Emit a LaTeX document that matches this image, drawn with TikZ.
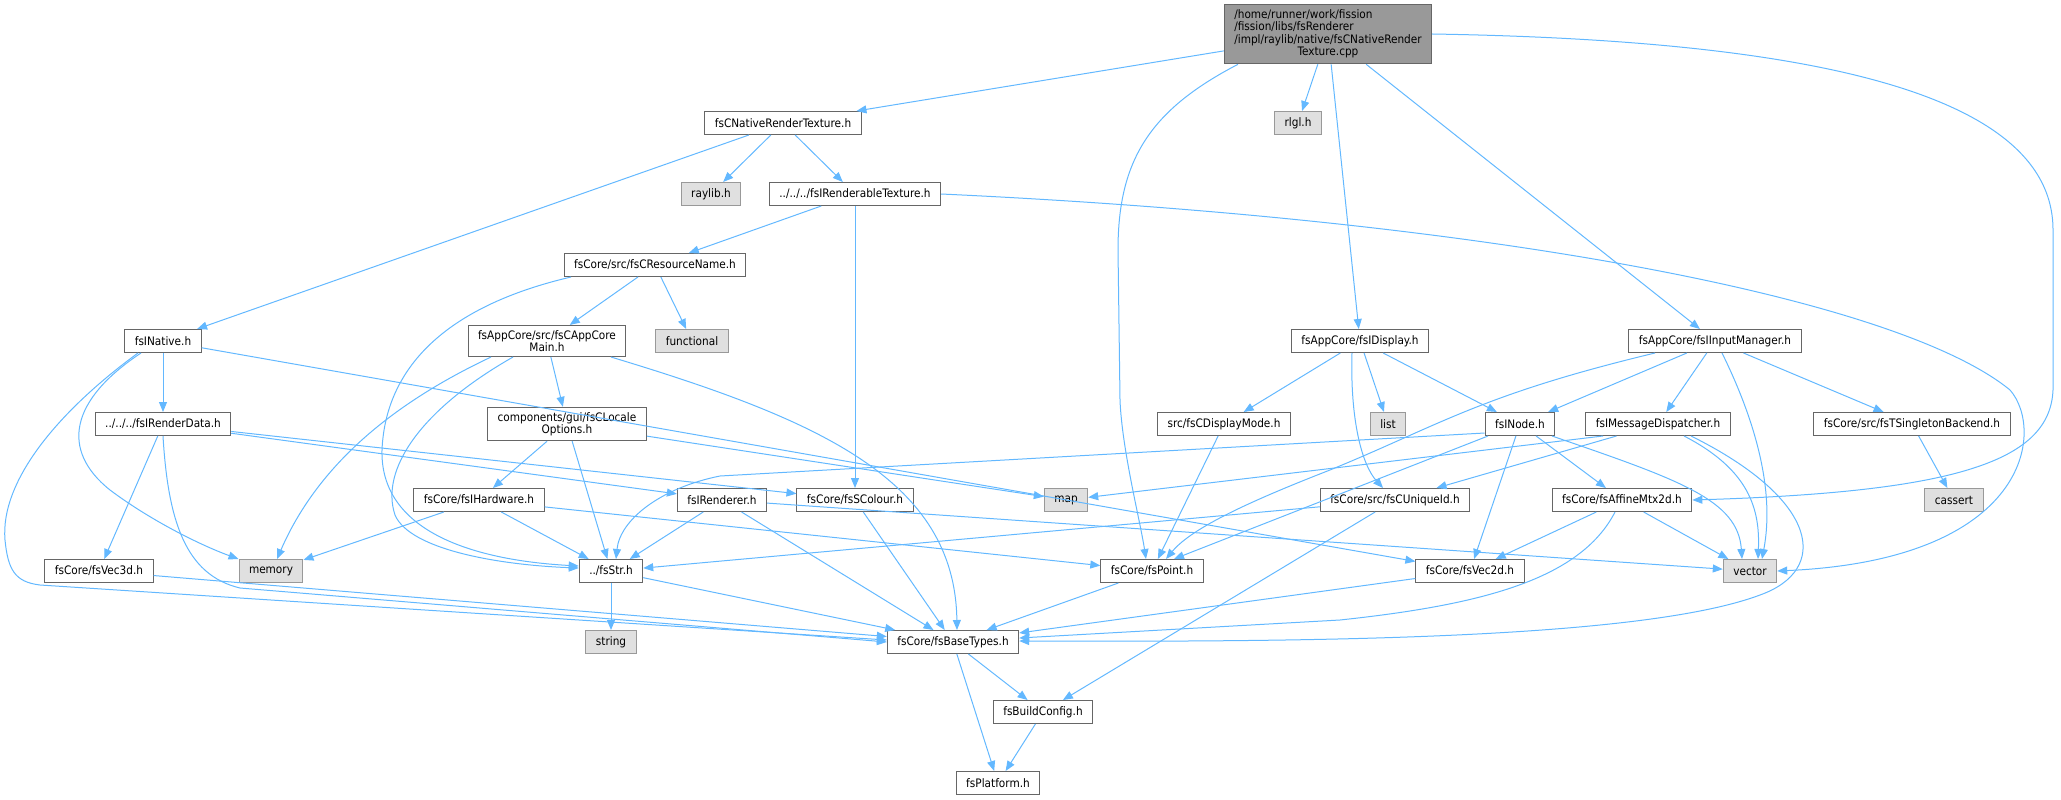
\documentclass[tikz,border=0pt]{standalone}
\usepackage{fontspec}
\setmainfont{DejaVu Sans Condensed}
\usepackage{tikz}
\usetikzlibrary{arrows.meta}
\definecolor{incblue}{HTML}{63B8FF}
\definecolor{boxline}{HTML}{666666}
\definecolor{sysline}{HTML}{999999}
\definecolor{sysfill}{HTML}{E0E0E0}
\definecolor{rootfill}{HTML}{999999}

\begin{document}
\begin{tikzpicture}[x=1pt,y=-1pt,
  hdr/.style={draw=boxline, fill=white, line width=1pt, minimum height=23pt,
    inner xsep=10pt, inner ysep=5pt, font=\fontsize{11.7}{12}\selectfont},
  sys/.style={hdr, draw=sysline, fill=sysfill},
  cur/.style={hdr, draw=boxline, fill=rootfill},
  inc/.style={incblue, line width=1pt, -{Triangle[length=10pt,width=8pt]}}]
\useasboundingbox (0,0) rectangle (2061,800);

\node [cur, minimum height=58pt] (root) at (1328,34) {\begin{tabular}{@{}l@{}}/home/runner/work/fission\\/fission/libs/fsRenderer\\/impl/raylib/native/fsCNativeRender\\\multicolumn{1}{@{}c@{}}{Texture.cpp}\end{tabular}};
\node [hdr] (ntex) at (783,123) {fsCNativeRenderTexture.h};
\node [sys] (rlgl) at (1298,123) {rlgl.h};
\node [sys] (raylib) at (711,194) {raylib.h};
\node [hdr] (rtex) at (855,194) {../../../fsIRenderableTexture.h};
\node [hdr] (resname) at (655,265) {fsCore/src/fsCResourceName.h};
\node [hdr] (native) at (163,341) {fsINative.h};
\node [hdr, align=center] (appmain) at (547,341) {fsAppCore/src/fsCAppCore\\Main.h};
\node [sys] (functional) at (692,341) {functional};
\node [hdr] (display) at (1360,341) {fsAppCore/fsIDisplay.h};
\node [hdr] (input) at (1715,341) {fsAppCore/fsIInputManager.h};
\node [hdr] (rdata) at (163,424) {../../../fsIRenderData.h};
\node [hdr, align=center] (locale) at (567,424) {components/gui/fsCLocale\\Options.h};
\node [hdr] (dmode) at (1224,424) {src/fsCDisplayMode.h};
\node [sys] (list) at (1388,424) {list};
\node [hdr] (inode) at (1520,424) {fsINode.h};
\node [hdr] (msgdisp) at (1658,424) {fsIMessageDispatcher.h};
\node [hdr] (singleton) at (1912,424) {fsCore/src/fsTSingletonBackend.h};
\node [hdr] (hardware) at (479,500) {fsCore/fsIHardware.h};
\node [hdr] (renderer) at (722,500) {fsIRenderer.h};
\node [hdr] (colour) at (855,500) {fsCore/fsSColour.h};
\node [sys] (map) at (1066,500) {map};
\node [hdr] (uniqueid) at (1395,500) {fsCore/src/fsCUniqueId.h};
\node [hdr] (affine) at (1622,500) {fsCore/fsAffineMtx2d.h};
\node [sys] (cassert) at (1954,500) {cassert};
\node [hdr] (vec3d) at (99,571) {fsCore/fsVec3d.h};
\node [sys] (memory) at (271,571) {memory};
\node [hdr] (str) at (611,571) {../fsStr.h};
\node [hdr] (point) at (1152,571) {fsCore/fsPoint.h};
\node [hdr] (vec2d) at (1470,571) {fsCore/fsVec2d.h};
\node [sys] (vector) at (1750,571) {vector};
\node [sys] (string) at (611,642) {string};
\node [hdr] (basetypes) at (953,642) {fsCore/fsBaseTypes.h};
\node [hdr] (buildconfig) at (1043,712) {fsBuildConfig.h};
\node [hdr] (platform) at (998,783) {fsPlatform.h};

\draw [inc] (root) -- (ntex);
\draw [inc] (root) -- (rlgl);
\draw [inc] (root) -- (display);
\draw [inc] (root) -- (input);
\draw [inc] ([xshift=-90]root.south) .. controls (1150,110) and (1118,160) .. (1118,250) -- (1120,400) .. controls (1122,450) and (1140,520) .. ([xshift=-6]point.north);
\draw [inc] (root.east) .. controls (1800,40) and (2053,90) .. (2053,230) -- (2053,390) .. controls (2050,460) and (1960,492) .. (affine.east);
\draw [inc] (ntex) -- (native);
\draw [inc] (ntex) -- (raylib);
\draw [inc] (ntex) -- (rtex);
\draw [inc] (rtex) -- (resname);
\draw [inc] (rtex) -- (colour);
\draw [inc] (rtex.east) .. controls (1500,220) and (1900,300) .. (2010,390) .. controls (2045,430) and (2030,560) .. (vector.east);
\draw [inc] ([xshift=-84]resname.south) .. controls (430,310) and (385,380) .. (382,450) .. controls (380,530) and (470,560) .. ([yshift=5]str.west);
\draw [inc] (resname) -- (appmain);
\draw [inc] (resname) -- (functional);
\draw [inc] ([xshift=-56]appmain.south) .. controls (400,400) and (320,460) .. ([xshift=6]memory.north);
\draw [inc] ([xshift=-34]appmain.south) .. controls (420,410) and (380,470) .. (395,515) .. controls (410,550) and (500,565) .. ([yshift=3]str.west);
\draw [inc] (appmain) -- (locale);
\draw [inc] ([xshift=64]appmain.south) .. controls (820,420) and (955,480) .. ([xshift=4]basetypes.north);
\draw [inc] ([xshift=-22]native.south) .. controls (70,400) and (60,450) .. (110,490) .. controls (150,520) and (200,545) .. (memory.north west);
\draw [inc] ([xshift=-25]native.south) .. controls (60,410) and (0,480) .. (5,540) .. controls (8,570) and (15,582) .. (40,585) -- ([yshift=2]basetypes.west);
\draw [inc] (native) -- (rdata);
\draw [inc] (native) -- (vec2d);
\draw [inc] (rdata) -- (vec3d);
\draw [inc] (rdata.south) .. controls (168,520) and (185,575) .. (240,588) -- (basetypes.west);
\draw [inc] (rdata) -- (colour);
\draw [inc] (rdata) -- (renderer);
\draw [inc] (vec3d) -- (basetypes);
\draw [inc] (locale) -- (hardware);
\draw [inc] (locale) -- (str);
\draw [inc] (locale) -- (map);
\draw [inc] (hardware) -- (memory);
\draw [inc] (hardware) -- (str);
\draw [inc] (hardware) -- (point);
\draw [inc] (renderer) -- (str);
\draw [inc] (renderer) -- (basetypes);
\draw [inc] (renderer) -- (vector);
\draw [inc] (colour) -- (basetypes);
\draw [inc] (str) -- (string);
\draw [inc] (str) -- (basetypes);
\draw [inc] (point) -- (basetypes);
\draw [inc] (dmode) -- (point);
\draw [inc] (display) -- (dmode);
\draw [inc] (display) -- (list);
\draw [inc] (display) -- (inode);
\draw [inc] ([xshift=-8]display.south) .. controls (1350,420) and (1362,465) .. ([xshift=-12]uniqueid.north);
\draw [inc] ([xshift=-60]input.south) .. controls (1480,395) and (1440,425) .. (1330,470) .. controls (1240,505) and (1190,530) .. ([xshift=14]point.north);
\draw [inc] (input) -- (inode);
\draw [inc] (input) -- (msgdisp);
\draw [inc] (input) -- (singleton);
\draw [inc] ([xshift=7]input.south) .. controls (1755,420) and (1775,490) .. ([xshift=12]vector.north);
\draw [inc] (singleton) -- (cassert);
\draw [inc] ([yshift=-9]inode.west) -- (720,476) .. controls (660,488) and (620,520) .. ([xshift=5]str.north);
\draw [inc] ([xshift=-32]inode.south) -- ([xshift=22]point.north);
\draw [inc] (inode) -- (vec2d);
\draw [inc] (inode) -- (affine);
\draw [inc] ([xshift=32]inode.south) .. controls (1680,480) and (1738,500) .. ([xshift=-8]vector.north);
\draw [inc] (msgdisp) -- (uniqueid);
\draw [inc] ([xshift=-55]msgdisp.south) -- (map);
\draw [inc] ([xshift=26]msgdisp.south) .. controls (1750,470) and (1760,510) .. ([xshift=8]vector.north);
\draw [inc] ([xshift=33]msgdisp.south) .. controls (1820,500) and (1830,570) .. (1760,595) .. controls (1640,640) and (1300,642) .. ([yshift=1]basetypes.east);
\draw [inc] (affine) -- (vec2d);
\draw [inc] (affine) -- (vector);
\draw [inc] ([xshift=-7]affine.south) .. controls (1580,580) and (1480,605) .. (1340,620) -- ([yshift=4]basetypes.east);
\draw [inc] (vec2d) -- (basetypes);
\draw [inc] (uniqueid) -- (str);
\draw [inc] (uniqueid) -- (buildconfig);
\draw [inc] (basetypes) -- (buildconfig);
\draw [inc] (basetypes) -- (platform);
\draw [inc] (buildconfig) -- (platform);
\end{tikzpicture}
\end{document}
